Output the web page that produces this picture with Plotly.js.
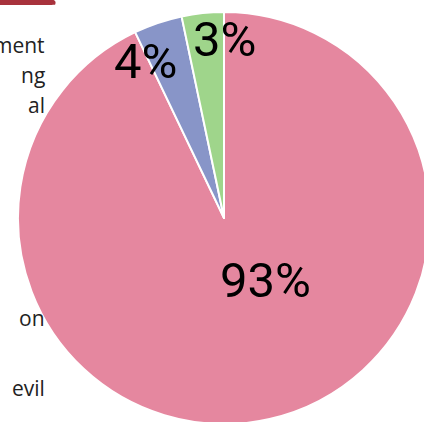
<!DOCTYPE html>
<html><head><meta charset="utf-8">
<script src="https://cdn.plot.ly/plotly-3.0.1.min.js"></script>
<style>html,body{margin:0;padding:0;overflow:hidden;width:424px;height:422px;background:#fff}#chart{position:absolute;left:0;top:0}</style>
</head><body><div id="chart"></div>
<script>
const categories = ["Pink", "Blue", "Green"];
const values = [92.9, 3.8, 3.3];
const colors = ["#e5879f", "#8895c8", "#9fd58b"];
const sideLabels = ["ment", "ng", "al", "on", "evil"];

// pixel helpers: plot area l=18, t=12, 412x412
const px = x => (x - 18) / 412;
const py = y => 1 - (y - 12) / 412;

const sideLabelY = [45, 75, 105, 318, 388];
const pctLabelPos = [[265, 280], [145, 61], [224, 40]];

const total = values.reduce((a, b) => a + b, 0);
const annotations = [];
sideLabels.forEach((t, i) => annotations.push({
  xref: "paper", yref: "paper", x: px(47), y: py(sideLabelY[i]),
  xanchor: "right", yanchor: "middle", text: t, showarrow: false,
  font: {family: "Open Sans, sans-serif", size: 21, color: "#222"}
}));
values.forEach((v, i) => annotations.push({
  xref: "paper", yref: "paper", x: px(pctLabelPos[i][0]), y: py(pctLabelPos[i][1]),
  xanchor: "center", yanchor: "middle", text: Math.round(v / total * 100) + "%",
  showarrow: false,
  font: {family: "Roboto, sans-serif", size: 49, color: "#000"}
}));

const data = [{
  type: "pie",
  labels: categories,
  values: values,
  sort: false,
  direction: "clockwise",
  rotation: 0,
  marker: {colors: colors, line: {color: "#ffffff", width: 2}},
  textinfo: "none",
  hoverinfo: "none"
}];
const layout = {
  width: 430, height: 424,
  margin: {l: 18, r: 0, t: 12, b: 0},
  showlegend: false,
  paper_bgcolor: "#fff",
  annotations: annotations,
  shapes: [{
    type: "path", xref: "paper", yref: "paper",
    path: "M -0.0437,1.03 L 0.08,1.03 Q 0.095,1.03 0.09,1.0175 L 0.085,1.0175 Q 0.083,1.017 0.075,1.017 L -0.0437,1.017 Z",
    fillcolor: "#a8323c", line: {width: 0}
  }]
};
Plotly.newPlot("chart", data, layout, {displayModeBar: false, staticPlot: true});
</script></body></html>
